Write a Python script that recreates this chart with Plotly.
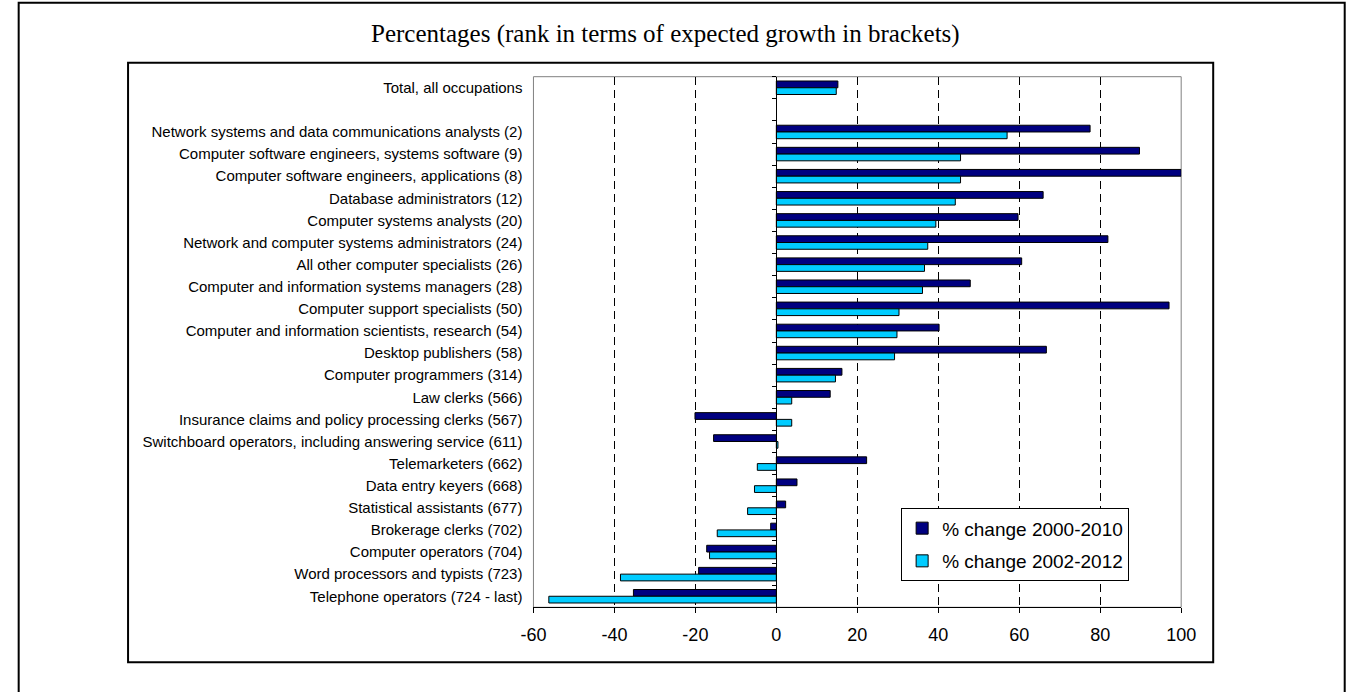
import plotly.graph_objects as go

# Occupations, top to bottom; the empty entry leaves a gap under the total row
occupations = [
    "Total, all occupations",
    " ",
    "Network systems and data communications analysts (2)",
    "Computer software engineers, systems software (9)",
    "Computer software engineers, applications (8)",
    "Database administrators (12)",
    "Computer systems analysts (20)",
    "Network and computer systems administrators (24)",
    "All other computer specialists (26)",
    "Computer and information systems managers (28)",
    "Computer support specialists (50)",
    "Computer and information scientists, research (54)",
    "Desktop publishers (58)",
    "Computer programmers (314)",
    "Law clerks (566)",
    "Insurance claims and policy processing clerks (567)",
    "Switchboard operators, including answering service (611)",
    "Telemarketers (662)",
    "Data entry keyers (668)",
    "Statistical assistants (677)",
    "Brokerage clerks (702)",
    "Computer operators (704)",
    "Word processors and typists (723)",
    "Telephone operators (724 - last)",
]

change_2000_2010 = [
    15.2, None, 77.5, 89.7, 100.0, 65.9, 59.7, 81.9, 60.6, 47.9, 97.0, 40.2,
    66.7, 16.2, 13.3, -20.1, -15.5, 22.3, 5.1, 2.3, -1.4, -17.2, -19.2, -35.3,
]

change_2002_2012 = [
    14.8, None, 57.0, 45.5, 45.5, 44.2, 39.4, 37.4, 36.6, 36.1, 30.3, 29.8,
    29.2, 14.6, 3.8, 3.8, 0.4, -4.7, -5.4, -7.1, -14.6, -16.5, -38.5, -56.2,
]

x_ticks = [-60, -40, -20, 0, 20, 40, 60, 80, 100]
x_tick_text = ["-60", "-40", "-20", "0", "20", "40", "60", "80", "100"]
grid_ticks = [-40, -20, 20, 40, 60, 80]
x_range = [-60, 100]

W, H = 1346, 692


def px(x):
    return x / W


def py(y):
    return 1 - y / H


# plot-area frame in pixels
PL, PR, PT, PB = 531.5, 1193.0, 76.7, 607.3
x_dom = [px(PL), px(PR)]
y_dom = [py(PB), py(PT)]
zero_pos = x_dom[0] + (0 - x_range[0]) / (x_range[1] - x_range[0]) * (x_dom[1] - x_dom[0])
n_cat = len(occupations)
cat_range = [n_cat - 0.5, -0.5]

fig = go.Figure()
fig.add_trace(go.Bar(
    y=occupations, x=change_2000_2010, orientation="h",
    name="% change 2000-2010", legendgroup="a",
    marker=dict(color="#000080", line=dict(color="black", width=1)),
))
fig.add_trace(go.Bar(
    y=occupations, x=change_2002_2012, orientation="h",
    name="% change 2002-2012", legendgroup="b",
    marker=dict(color="#00CCFF", line=dict(color="black", width=1)),
))
# empty traces so the helper axes (dashed grid, axis at zero) get drawn
fig.add_trace(go.Scatter(x=[], y=[], xaxis="x2", yaxis="y", showlegend=False, hoverinfo="skip"))
fig.add_trace(go.Scatter(x=[], y=[], xaxis="x", yaxis="y2", showlegend=False, hoverinfo="skip"))

fig.update_layout(
    width=W, height=H,
    margin=dict(l=0, r=0, t=0, b=0),
    paper_bgcolor="white", plot_bgcolor="white",
    barmode="group", bargap=0.39, bargroupgap=0,
    font=dict(family="Arial, Liberation Sans, sans-serif", color="black"),
    showlegend=True,
    legend=dict(
        x=px(907), y=py(508.3), xanchor="left", yanchor="top",
        bgcolor="white", bordercolor="black", borderwidth=1,
        font=dict(size=19, color="black"),
        traceorder="grouped", tracegroupgap=5,
    ),
    xaxis=dict(
        domain=x_dom, range=x_range, tickvals=x_ticks, ticktext=x_tick_text,
        showgrid=False, zeroline=False,
        showline=True, linecolor="black", linewidth=1,
        ticks="outside", ticklen=5, tickcolor="black",
        tickfont=dict(size=18, color="black"),
        ticklabelstandoff=6,
        anchor="y",
    ),
    xaxis2=dict(
        domain=x_dom, range=x_range, overlaying="x", anchor="y",
        tickvals=grid_ticks, showticklabels=False, ticks="",
        showgrid=True, gridcolor="black", gridwidth=1, griddash="8px,5px",
        zeroline=False, showline=False,
    ),
    yaxis=dict(
        domain=y_dom, range=cat_range, type="category",
        showgrid=False, zeroline=False, showline=False, ticks="",
        tickfont=dict(size=15, color="black"),
        ticklabelstandoff=10,
        anchor="x",
    ),
    yaxis2=dict(
        domain=y_dom, range=cat_range, overlaying="y", anchor="free",
        position=zero_pos, side="left",
        tickvals=[i - 0.5 for i in range(n_cat + 1)],
        showticklabels=False, ticks="outside", ticklen=4, tickcolor="black",
        showline=True, linecolor="black", linewidth=1,
        showgrid=False, zeroline=False,
    ),
    shapes=[
        # outer frame
        dict(type="rect", xref="paper", yref="paper",
             x0=px(5.8), y0=py(2.7), x1=px(1360), y1=py(710),
             line=dict(color="black", width=2), layer="below"),
        # chart box
        dict(type="rect", xref="paper", yref="paper",
             x0=px(117.5), y0=py(62.7), x1=px(1225.7), y1=py(662.3),
             line=dict(color="black", width=2), layer="below"),
        # plot-area border
        dict(type="rect", xref="paper", yref="paper",
             x0=x_dom[0], y0=y_dom[0], x1=x_dom[1], y1=y_dom[1],
             line=dict(color="#808080", width=1), layer="below"),
    ],
    annotations=[
        dict(text="Percentages (rank in terms of expected growth in brackets)",
             xref="paper", yref="paper", x=px(666.5), y=py(34.5),
             xanchor="center", yanchor="middle", showarrow=False,
             font=dict(family="Times New Roman, Liberation Serif, serif", size=25, color="black")),
    ],
)

fig.write_html("out.html")
